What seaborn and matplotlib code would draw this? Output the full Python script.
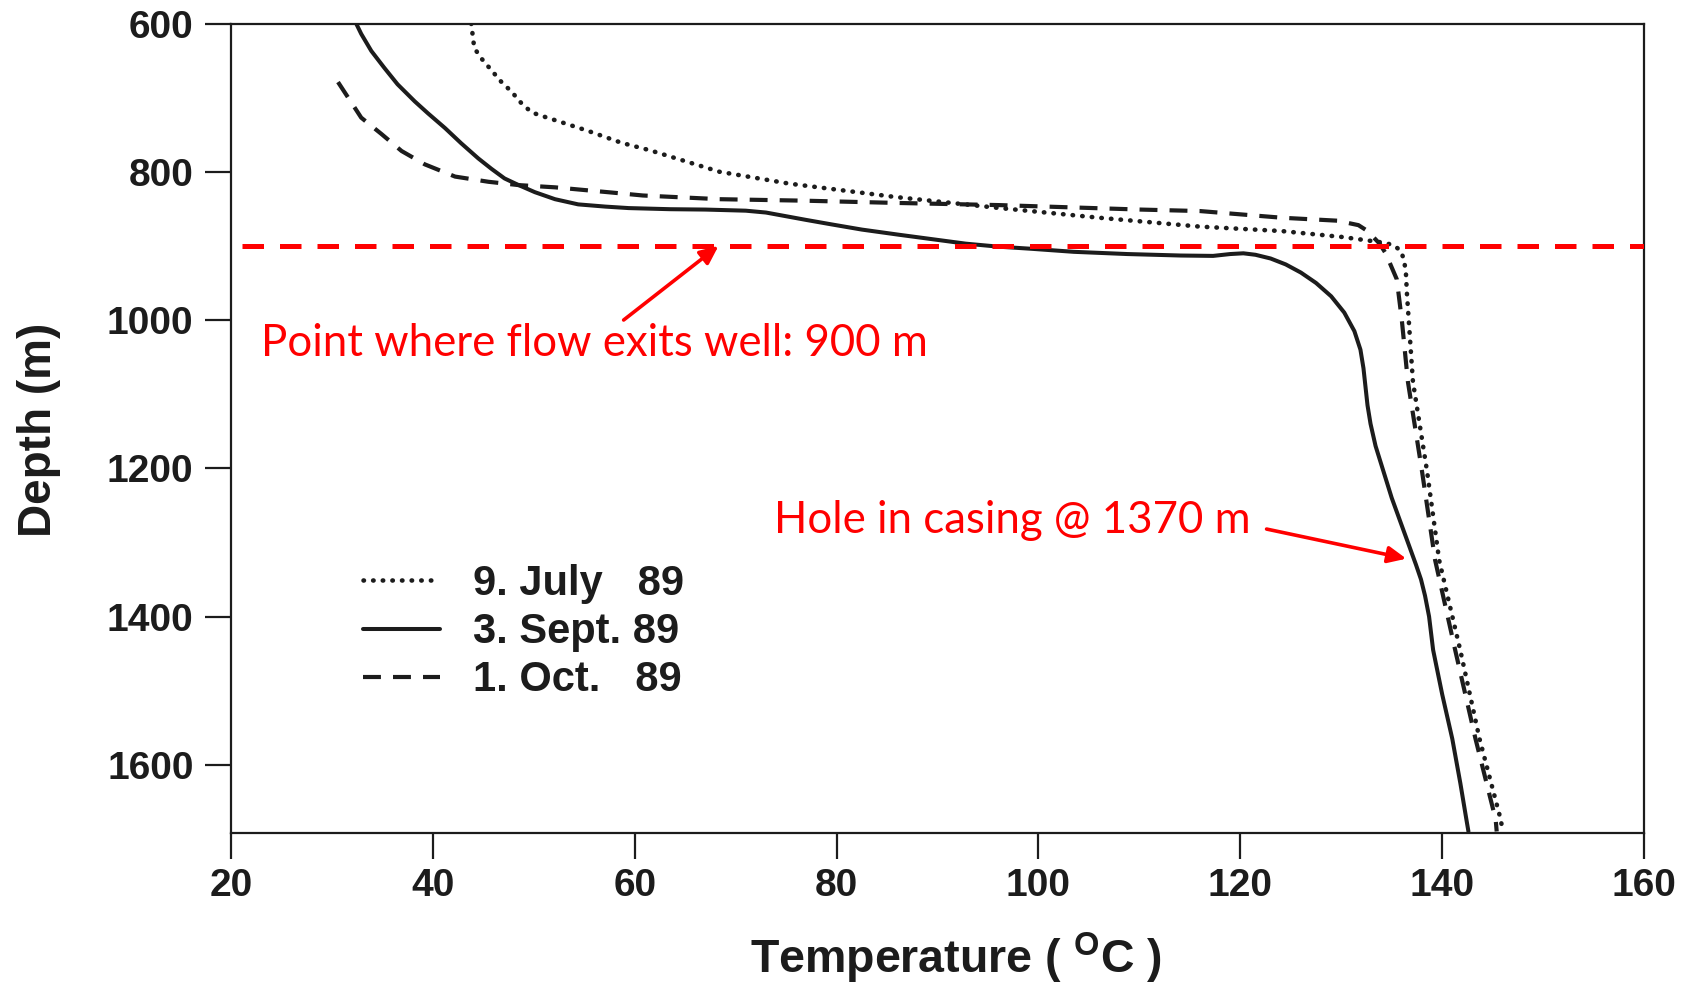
import matplotlib
matplotlib.use("Agg")
import matplotlib.pyplot as plt
from matplotlib.font_manager import FontProperties
import seaborn as sns

# Temperature profiles in the well (temperature in deg C, depth in m)
july_temp = [43.8, 44.1, 44.8, 45.8, 46.8, 47.8, 48.8, 49.8, 51.1, 52.7, 55.4, 58.7,
             61.5, 68.4, 75.3, 85.8, 96.2, 106.0, 116.0, 124.1, 130.1, 134.4, 135.3,
             135.9, 136.2, 136.4, 136.5, 137.1, 138.5, 139.7, 141.8, 143.7, 145.8, 146.0]
july_depth = [600, 633, 647, 663, 679, 692, 708, 720, 726, 733, 745, 761,
              771, 800, 816, 834, 849, 862, 874, 880, 888, 896, 900,
              907, 918, 935, 963, 1083, 1204, 1324, 1446, 1565, 1674, 1690]

sept_temp = [32.4, 32.9, 33.9, 35.2, 36.5, 38.2, 39.5, 41.2, 42.8, 44.5, 45.8, 47.1,
             48.5, 50.1, 52.1, 54.4, 57.1, 59.4, 63.5, 67.0, 71.0, 73.0, 74.6, 77.0,
             79.5, 82.5, 86.2, 89.5, 92.8, 96.0, 99.4, 103.5, 108.8, 114.1, 117.3,
             119.0, 120.3, 121.5, 123.0, 124.5, 126.0, 127.5, 129.0, 130.3, 131.3,
             131.9, 132.2, 132.4, 132.6, 132.9, 133.4, 134.2, 135.0, 135.8, 136.6,
             137.4, 137.9, 138.3, 138.7, 139.1, 140.0, 141.0, 141.8, 142.4, 142.6]
sept_depth = [600, 614, 637, 660, 682, 705, 721, 741, 761.5, 782, 796, 809,
              818, 827.5, 837, 844, 847, 849, 850.5, 851, 852.5, 855, 859, 865,
              871, 878, 885, 891, 897, 901, 904, 908, 911, 913, 913.5,
              911, 910, 912, 917, 925, 936, 950, 968, 990, 1015,
              1040, 1065, 1090, 1115, 1140, 1170, 1205, 1240, 1270, 1300,
              1330, 1350, 1372, 1400, 1445, 1505, 1565, 1625, 1674, 1690]

oct_temp = [30.6, 31.8, 32.9, 34.9, 36.9, 39.2, 42.2, 45.5, 48.5, 52.1, 57.7, 60.8,
            68.4, 76.8, 85.8, 96.2, 110.1, 116.0, 124.1, 129.6, 131.7, 132.5,
            133.1, 133.8, 134.4, 135.5, 136.0, 136.6, 138.0, 139.3, 141.3, 143.3,
            145.3, 145.4]
oct_depth = [679, 704, 727, 749, 772, 790, 806.5, 813.5, 818, 821, 828, 832,
             837, 839, 842, 845, 851, 853, 862, 866, 872, 879,
             887, 897, 910, 945, 1000, 1083, 1204, 1324, 1446, 1565,
             1674, 1690]

series_labels = ["9. July   89", "3. Sept. 89", "1. Oct.   89"]

x_ticks = [20, 40, 60, 80, 100, 120, 140, 160]
y_ticks = [600, 800, 1000, 1200, 1400, 1600]

flow_exit_depth = 900
flow_exit_text = "Point where flow exits well: 900 m"
flow_exit_arrow_tail = (58.9, 1000)
flow_exit_arrow_head = (68.3, 900)
flow_exit_text_pos = (23.0, 1032)

casing_text = "Hole in casing @ 1370 m"
casing_arrow_tail = (122.6, 1282)
casing_arrow_head = (136.45, 1322)
casing_text_pos = (73.8, 1271)

sns.set_style("ticks")
plt.rcParams["font.family"] = ["Liberation Sans", "DejaVu Sans"]
plt.rcParams["mathtext.fontset"] = "custom"
plt.rcParams["mathtext.rm"] = "Liberation Sans:bold"
plt.rcParams["mathtext.bf"] = "Liberation Sans:bold"

ink = "#1c1c1c"
red = "#ff0000"

fig = plt.figure(figsize=(16.85, 9.84), dpi=100)
ax = fig.add_axes([0.1371, 0.1535, 0.8386, 0.8226])

sns.lineplot(x=july_temp, y=july_depth, sort=False, estimator=None, ax=ax,
             color=ink, linewidth=3.3, linestyle=(0, (0.1, 2.0)),
             dash_capstyle="round", label=series_labels[0])
sns.lineplot(x=sept_temp, y=sept_depth, sort=False, estimator=None, ax=ax,
             color=ink, linewidth=2.9, linestyle="-", solid_joinstyle="round",
             label=series_labels[1])
sns.lineplot(x=oct_temp, y=oct_depth, sort=False, estimator=None, ax=ax,
             color=ink, linewidth=3.0, linestyle=(0, (4.3, 2.9)), label=series_labels[2])

# flow exit level
ax.axhline(flow_exit_depth, xmin=0.008, xmax=1.0, color=red, linewidth=3.6,
           linestyle=(0, (4.3, 3.2)), zorder=5)

ax.set_xlim(20, 160)
ax.set_ylim(1692, 600)
ax.set_xticks(x_ticks)
ax.set_yticks(y_ticks)

for side in ["left", "right", "top", "bottom"]:
    ax.spines[side].set_visible(True)
    ax.spines[side].set_linewidth(1.6)
    ax.spines[side].set_color(ink)

ax.tick_params(axis="both", direction="out", length=19, width=1.6, colors=ink)
ax.tick_params(axis="y", pad=8, labelsize=28)
ax.tick_params(axis="x", pad=6, labelsize=28)
for lab in ax.get_xticklabels() + ax.get_yticklabels():
    lab.set_fontweight("bold")

ax.set_xlabel(r"Temperature ( $^{\mathrm{O}}$C )", fontsize=33.5, fontweight="bold", color=ink)
ax.set_ylabel("Depth (m)", fontsize=33, fontweight="bold", color=ink)
ax.xaxis.label.set_va("center")
ax.yaxis.label.set_va("center")
ax.xaxis.set_label_coords(0.513, -0.155)
ax.yaxis.set_label_coords(-0.136, 0.498)

leg = ax.legend(loc="upper left", bbox_to_anchor=(0.2154, 0.427),
                bbox_transform=fig.transFigure, frameon=False,
                prop=FontProperties(family="Liberation Sans", weight="bold", size=30),
                handlelength=1.85, handletextpad=0.8, labelspacing=0.2,
                borderpad=0, borderaxespad=0)
for t in leg.get_texts():
    t.set_color(ink)

# annotations
ax.text(*flow_exit_text_pos, flow_exit_text, color=red, fontsize=31.5,
        family=["Lato", "DejaVu Sans"], va="center", ha="left")
ax.annotate("", xy=flow_exit_arrow_head, xytext=flow_exit_arrow_tail,
            arrowprops=dict(arrowstyle="-|>,head_length=0.55,head_width=0.25",
                            mutation_scale=20, color=red, lw=2.6, shrinkA=0, shrinkB=0))

ax.text(*casing_text_pos, casing_text, color=red, fontsize=31.5,
        family=["Lato", "DejaVu Sans"], va="center", ha="left")
ax.annotate("", xy=casing_arrow_head, xytext=casing_arrow_tail,
            arrowprops=dict(arrowstyle="-|>,head_length=0.55,head_width=0.25",
                            mutation_scale=20, color=red, lw=2.6, shrinkA=0, shrinkB=0))

fig.savefig("out.png", dpi=100)
